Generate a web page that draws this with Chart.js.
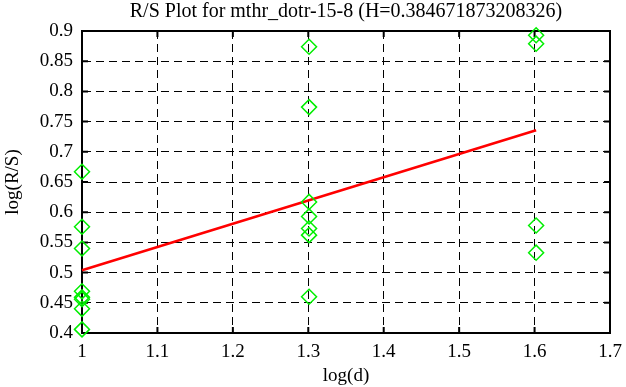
<html>
<head>
<title>R/S Plot</title>
<script src="https://cdn.jsdelivr.net/npm/chart.js@4.4.0/dist/chart.umd.min.js"></script>
<style>
  body { margin: 0; background: #fff; }
</style>
</head>
<body>
<canvas id="rs-chart" width="626" height="387"></canvas>
<script>
// log(d) groups and the log(R/S) values
const xGroups = [1, 1.30103, 1.60206];
const ys1 = [0.667, 0.576, 0.540, 0.469, 0.459, 0.456, 0.440, 0.406];
const ys2 = [0.874, 0.774, 0.617, 0.593, 0.573, 0.562, 0.460];
const ys3 = [0.893, 0.879, 0.578, 0.533];
const fitX = [1, 1.60206];
const fitY = [0.5040, 0.7356];
const xTicks = [1, 1.1, 1.2, 1.3, 1.4, 1.5, 1.6, 1.7];
const yTicks = [0.4, 0.45, 0.5, 0.55, 0.6, 0.65, 0.7, 0.75, 0.8, 0.85, 0.9];

let pts = [];
[ys1, ys2, ys3].forEach((ys, i) => {
    for (let y of ys) pts.push({x: xGroups[i], y: y});
});
let fit = fitX.map((x, i) => ({x: x, y: fitY[i]}));

// small inward tick marks on all four sides, gnuplot style
const innerTicks = {
    id: 'innerTicks',
    beforeDatasetsDraw(chart) {
        const c = chart.ctx, a = chart.chartArea;
        const xs = chart.scales.x, ysc = chart.scales.y;
        c.save();
        c.strokeStyle = '#000';
        c.lineWidth = 2;
        c.beginPath();
        for (let v of xTicks) {
            let px = xs.getPixelForValue(v);
            c.moveTo(px, a.bottom); c.lineTo(px, a.bottom - 6);
            c.moveTo(px, a.top); c.lineTo(px, a.top + 6);
        }
        for (let v of yTicks) {
            let py = ysc.getPixelForValue(v);
            c.moveTo(a.left, py); c.lineTo(a.left + 6, py);
            c.moveTo(a.right, py); c.lineTo(a.right - 6, py);
        }
        c.stroke();
        c.strokeRect(a.left, a.top, a.right - a.left, a.bottom - a.top);
        c.restore();
    }
};

const fam = '"Liberation Serif", "DejaVu Serif", serif';
const font = {family: fam, size: 19, weight: 'normal'};
const titleFont = {family: fam, size: 20, weight: 'normal'};

new Chart(document.getElementById('rs-chart'), {
    type: 'scatter',
    data: {
        datasets: [
            {
                data: pts,
                pointStyle: 'rectRot',
                pointRadius: 7.5,
                pointBorderColor: '#00ee00',
                pointBackgroundColor: 'rgba(0,0,0,0)',
                pointBorderWidth: 1.5,
                showLine: false,
                clip: false,
                order: 1
            },
            {
                data: fit,
                showLine: true,
                borderColor: '#ff0000',
                borderWidth: 2.5,
                pointRadius: 0,
                clip: false,
                order: 2
            }
        ]
    },
    plugins: [innerTicks],
    options: {
        responsive: false,
        animation: false,
        layout: {padding: {top: 0, right: 16, left: 2, bottom: 0}},
        plugins: {
            legend: {display: false},
            tooltip: {enabled: false},
            title: {
                display: true,
                fullSize: false,
                text: 'R/S Plot for mthr_dotr-15-8 (H=0.384671873208326)',
                color: '#000',
                font: titleFont,
                padding: {top: 0, bottom: 7}
            }
        },
        scales: {
            x: {
                type: 'linear',
                min: 1,
                max: 1.7,
                afterBuildTicks: (s) => { s.ticks = xTicks.map(v => ({value: v})); },
                afterFit: (s) => { s.height = 54; s.paddingRight = 0; s.paddingLeft = 0; },
                ticks: {color: '#000', font: font, padding: 8, callback: v => String(Math.round(v * 10) / 10)},
                grid: {color: '#000', lineWidth: 1, drawTicks: false},
                border: {display: true, color: '#000', width: 2, dash: [8, 5]},
                title: {display: true, text: 'log(d)', color: '#000', font: font, padding: {top: 0, bottom: 0}}
            },
            y: {
                type: 'linear',
                min: 0.4,
                max: 0.9,
                afterBuildTicks: (s) => { s.ticks = yTicks.map(v => ({value: v})); },
                afterFit: (s) => { s.width = 80; },
                ticks: {color: '#000', font: font, padding: 9, callback: v => String(Math.round(v * 100) / 100)},
                grid: {color: '#000', lineWidth: 1, drawTicks: false},
                border: {display: true, color: '#000', width: 2, dash: [8, 5]},
                title: {display: true, text: 'log(R/S)', color: '#000', font: font, padding: {top: 0, bottom: 0}}
            }
        }
    }
});
</script>
</body>
</html>
